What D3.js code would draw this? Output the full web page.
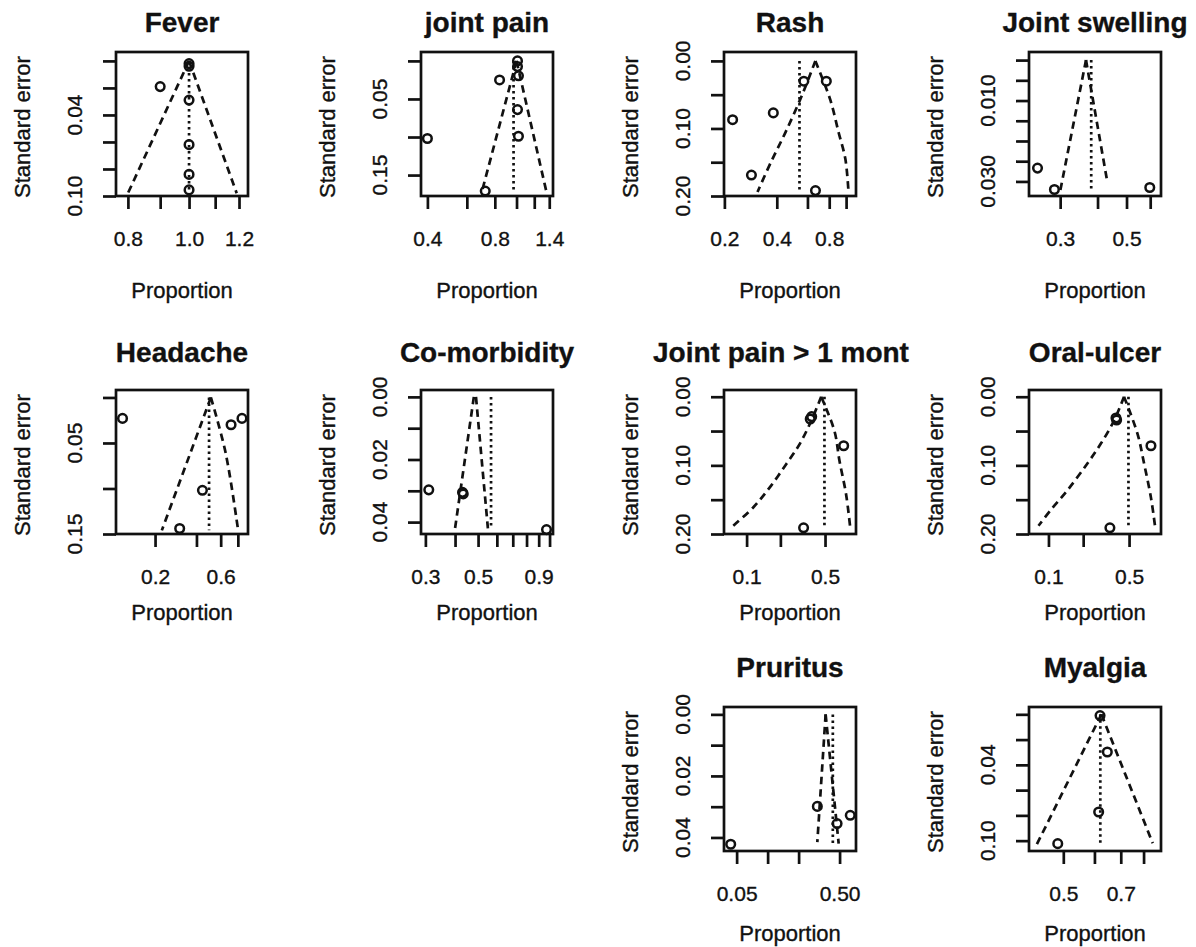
<!DOCTYPE html>
<html>
<head>
<meta charset="utf-8">
<script src="https://cdn.jsdelivr.net/npm/d3@7"></script>
<style>
  body { margin: 0; background: #fff; }
  text { font-family: "Liberation Sans", Arial, sans-serif; fill: #111; stroke: #111; stroke-width: 0.35; }
</style>
</head>
<body>
<svg id="chart"></svg>
<script>
// values; points are [proportion, standard error]

const feverStudies = [[0.9, 0.019], [1.0, 0.002], [1.0, 0.004], [1.0, 0.029], [1.0, 0.062], [1.0, 0.084], [1.0, 0.0955]];
const feverLeft = [[1.0, 0], [0.80, 0.098]];
const feverRight = [[1.0, 0], [1.19, 0.098]];
const feverPooled = 1.0;
const feverXLim = [0.766, 1.24];
const feverYLim = [-0.0066, 0.1];
const feverXTicks = [0.8, 0.9, 1.0, 1.1, 1.2];
const feverXLabels = ["0.8", "", "1.0", "", "1.2"];
const feverYTicks = [0, 0.02, 0.04, 0.06, 0.08, 0.10];
const feverYLabels = ["", "", "0.04", "", "", "0.10"];

const jointStudies = [[0.84, 0.025], [1.01, 0.0], [1.01, 0.0075], [1.02, 0.0196], [1.01, 0.064], [1.02, 0.099], [0.40, 0.102], [0.725, 0.171]];
const jointLeft = [[1.0, 0], [0.70, 0.172]];
const jointRight = [[1.0, 0], [1.36, 0.172]];
const jointPooled = 0.97;
const jointXLim = [0.3745, 1.455];
const jointYLim = [-0.0117, 0.1775];
const jointXTicks = [0.4, 0.6, 0.8, 1.0, 1.2, 1.4];
const jointXLabels = ["0.4", "", "0.8", "", "", "1.4"];
const jointYTicks = [0, 0.05, 0.10, 0.15];
const jointYLabels = ["", "0.05", "", "0.15"];

const rashStudies = [[0.223, 0.087], [0.382, 0.077], [0.286, 0.169], [0.572, 0.030], [0.77, 0.030], [0.667, 0.192]];
const rashLeft = [[0.666, 0], [0.56, 0.05], [0.45, 0.105], [0.37, 0.15], [0.31, 0.194]];
const rashRight = [[0.666, 0], [0.81, 0.057], [0.906, 0.106], [0.99, 0.145], [1.03, 0.19]];
const rashPooled = 0.54;
const rashXLim = [0.199, 1.14];
const rashYLim = [-0.0132, 0.2];
const rashXTicks = [0.2, 0.4, 0.6, 0.8, 1.0];
const rashXLabels = ["0.2", "0.4", "", "0.8", ""];
const rashYTicks = [0, 0.05, 0.10, 0.15, 0.20];
const rashYLabels = ["0.00", "", "0.10", "", "0.20"];

const swellStudies = [[0.252, 0.0267], [0.287, 0.032], [0.598, 0.0315]];
const swellLeft = [[0.366, 0], [0.30, 0.0324]];
const swellRight = [[0.366, 0], [0.431, 0.030]];
const swellPooled = 0.381;
const swellXLim = [0.236, 0.652];
const swellYLim = [-0.002, 0.0336];
const swellXTicks = [0.3, 0.4, 0.5, 0.6];
const swellXLabels = ["0.3", "", "0.5", ""];
const swellYTicks = [0, 0.005, 0.010, 0.015, 0.020, 0.025, 0.030];
const swellYLabels = ["", "", "0.010", "", "", "", "0.030"];

const headStudies = [[0.116, 0.023], [0.714, 0.030], [0.857, 0.023], [0.442, 0.102], [0.302, 0.144]];
const headLeft = [[0.509, 0], [0.224, 0.146]];
const headRight = [[0.509, 0], [0.65, 0.06], [0.80, 0.144]];
const headPooled = 0.494;
const headXLim = [0.104, 0.948];
const headYLim = [-0.0082, 0.15];
const headXTicks = [0.2, 0.4, 0.6, 0.8];
const headXLabels = ["0.2", "", "0.6", ""];
const headYTicks = [0, 0.05, 0.10, 0.15];
const headYLabels = ["", "0.05", "", "0.15"];

const comorbStudies = [[0.31, 0.0297], [0.43, 0.0305], [0.433, 0.031], [0.971, 0.0424]];
const comorbLeft = [[0.48, 0], [0.40, 0.042]];
const comorbRight = [[0.49, 0], [0.55, 0.042]];
const comorbPooled = 0.567;
const comorbXLim = [0.2875, 1.034];
const comorbYLim = [-0.0022, 0.0438];
const comorbXTicks = [0.3, 0.4, 0.5, 0.6, 0.7, 0.8, 0.9, 1.0];
const comorbXLabels = ["0.3", "", "0.5", "", "", "", "0.9", ""];
const comorbYTicks = [0, 0.01, 0.02, 0.03, 0.04];
const comorbYLabels = ["0.00", "", "0.02", "", "0.04"];

const longStudies = [[0.369, 0.0325], [0.38, 0.029], [0.733, 0.0714], [0.322, 0.191]];
const longLeft = [[0.462, 0], [0.377, 0.035], [0.297, 0.069], [0.226, 0.098], [0.161, 0.132], [0.115, 0.161], [0.076, 0.188]];
const longRight = [[0.462, 0], [0.606, 0.0496], [0.672, 0.093], [0.77, 0.142], [0.835, 0.188]];
const longPooled = 0.494;
const longXLim = [0.0629, 0.944];
const longYLim = [-0.0098, 0.2];
const longXTicks = [0.1, 0.2, 0.5];
const longXLabels = ["0.1", "", "0.5"];
const longYTicks = [0, 0.05, 0.10, 0.15, 0.20];
const longYLabels = ["0.00", "", "0.10", "", "0.20"];

const oralStudies = [[0.39, 0.034], [0.385, 0.031], [0.774, 0.0714], [0.341, 0.191]];
const oralLeft = [[0.452, 0], [0.37, 0.035], [0.283, 0.069], [0.216, 0.098], [0.145, 0.137], [0.1035, 0.166], [0.082, 0.188]];
const oralRight = [[0.452, 0], [0.592, 0.054], [0.676, 0.098], [0.774, 0.147], [0.839, 0.188]];
const oralPooled = 0.494;
const oralXLim = [0.0678, 0.946];
const oralYLim = [-0.0098, 0.2];
const oralXTicks = [0.1, 0.2, 0.5];
const oralXLabels = ["0.1", "", "0.5"];
const oralYTicks = [0, 0.05, 0.10, 0.15, 0.20];
const oralYLabels = ["0.00", "", "0.10", "", "0.20"];

const prurStudies = [[0.0438, 0.0422], [0.304, 0.0299], [0.473, 0.0355], [0.635, 0.0328]];
const prurLeft = [[0.366, 0], [0.304, 0.0415]];
const prurRight = [[0.366, 0], [0.49, 0.042]];
const prurPooled = 0.43;
const prurXLim = [0.0377, 0.722];
const prurYLim = [-0.0024, 0.0444];
const prurXTicks = [0.05, 0.1, 0.2, 0.5];
const prurXLabels = ["0.05", "", "", "0.50"];
const prurYTicks = [0, 0.01, 0.02, 0.03, 0.04];
const prurYLabels = ["0.00", "", "0.02", "", "0.04"];

const myalStudies = [[0.62, 0.001], [0.647, 0.0298], [0.615, 0.0773], [0.484, 0.1024]];
const myalLeft = [[0.625, 0], [0.427, 0.1037]];
const myalRight = [[0.625, 0], [0.844, 0.102]];
const myalPooled = 0.621;
const myalXLim = [0.409, 0.886];
const myalYLim = [-0.0058, 0.1082];
const myalXTicks = [0.5, 0.6, 0.7, 0.8];
const myalXLabels = ["0.5", "", "0.7", ""];
const myalYTicks = [0, 0.02, 0.04, 0.06, 0.08, 0.10];
const myalYLabels = ["", "", "0.04", "", "", "0.10"];

const panels = [
  { title: "Fever", row: 0, col: 0, studies: feverStudies, left: feverLeft, right: feverRight, pooled: feverPooled, xLim: feverXLim, yLim: feverYLim, xTicks: feverXTicks, xLabels: feverXLabels, yTicks: feverYTicks, yLabels: feverYLabels },
  { title: "joint pain", row: 0, col: 1, studies: jointStudies, left: jointLeft, right: jointRight, pooled: jointPooled, xLim: jointXLim, yLim: jointYLim, xTicks: jointXTicks, xLabels: jointXLabels, yTicks: jointYTicks, yLabels: jointYLabels },
  { title: "Rash", row: 0, col: 2, studies: rashStudies, left: rashLeft, right: rashRight, pooled: rashPooled, xLim: rashXLim, yLim: rashYLim, xTicks: rashXTicks, xLabels: rashXLabels, yTicks: rashYTicks, yLabels: rashYLabels },
  { title: "Joint swelling", row: 0, col: 3, studies: swellStudies, left: swellLeft, right: swellRight, pooled: swellPooled, xLim: swellXLim, yLim: swellYLim, xTicks: swellXTicks, xLabels: swellXLabels, yTicks: swellYTicks, yLabels: swellYLabels },
  { title: "Headache", row: 1, col: 0, studies: headStudies, left: headLeft, right: headRight, pooled: headPooled, xLim: headXLim, yLim: headYLim, xTicks: headXTicks, xLabels: headXLabels, yTicks: headYTicks, yLabels: headYLabels },
  { title: "Co-morbidity", row: 1, col: 1, studies: comorbStudies, left: comorbLeft, right: comorbRight, pooled: comorbPooled, xLim: comorbXLim, yLim: comorbYLim, xTicks: comorbXTicks, xLabels: comorbXLabels, yTicks: comorbYTicks, yLabels: comorbYLabels },
  { title: "Joint pain > 1 mont", shift: -9, row: 1, col: 2, studies: longStudies, left: longLeft, right: longRight, pooled: longPooled, xLim: longXLim, yLim: longYLim, xTicks: longXTicks, xLabels: longXLabels, yTicks: longYTicks, yLabels: longYLabels },
  { title: "Oral-ulcer", row: 1, col: 3, studies: oralStudies, left: oralLeft, right: oralRight, pooled: oralPooled, xLim: oralXLim, yLim: oralYLim, xTicks: oralXTicks, xLabels: oralXLabels, yTicks: oralYTicks, yLabels: oralYLabels },
  { title: "Pruritus", row: 2, col: 2, studies: prurStudies, left: prurLeft, right: prurRight, pooled: prurPooled, xLim: prurXLim, yLim: prurYLim, xTicks: prurXTicks, xLabels: prurXLabels, yTicks: prurYTicks, yLabels: prurYLabels },
  { title: "Myalgia", row: 2, col: 3, studies: myalStudies, left: myalLeft, right: myalRight, pooled: myalPooled, xLim: myalXLim, yLim: myalYLim, xTicks: myalXTicks, xLabels: myalXLabels, yTicks: myalYTicks, yLabels: myalYLabels }
];

// layout of the grid of plot boxes
const colLeft = [116, 421, 724, 1029];
const rowTop = [52, 390, 707];
const titleY = [32, 362, 677];
const xlabY = [298, 620, 941];
const boxW = 132, boxH = 144;
const lw = 2.7;

const svg = d3.select("#chart").attr("width", 1196).attr("height", 947);

panels.forEach((p) => {
  const L = colLeft[p.col], T = rowTop[p.row];
  const x = d3.scaleLog().domain(p.xLim).range([L, L + boxW]);
  const y = d3.scaleLinear().domain(p.yLim).range([T, T + boxH]);
  const g = svg.append("g");

  // funnel (pseudo confidence limits)
  const line = d3.line()
    .x((d) => x(d[0]))
    .y((d) => y(d[1]))
    .curve(d3.curveCatmullRom);
  [p.left, p.right].forEach((side) => {
    g.append("path")
      .attr("d", line(side))
      .attr("fill", "none")
      .attr("stroke", "#111")
      .attr("stroke-width", lw)
      .attr("stroke-dasharray", "7.5,5");
  });

  // pooled estimate
  const seMax = d3.max(p.left.concat(p.right), (d) => d[1]);
  g.append("line")
    .attr("x1", x(p.pooled)).attr("x2", x(p.pooled))
    .attr("y1", y(0)).attr("y2", y(seMax))
    .attr("stroke", "#111")
    .attr("stroke-width", lw)
    .attr("stroke-dasharray", "2.5,3.5");

  // studies
  g.selectAll("circle.study")
    .data(p.studies)
    .join("circle")
    .attr("class", "study")
    .attr("cx", (d) => x(d[0]))
    .attr("cy", (d) => y(d[1]))
    .attr("r", 4.3)
    .attr("fill", "none")
    .attr("stroke", "#111")
    .attr("stroke-width", 2.5);

  g.append("rect")
    .attr("x", L).attr("y", T)
    .attr("width", boxW).attr("height", boxH)
    .attr("fill", "none")
    .attr("stroke", "#111")
    .attr("stroke-width", lw);

  // x axis
  const xa = g.append("g")
    .attr("transform", `translate(0,${T + boxH})`)
    .call(d3.axisBottom(x)
      .tickValues(p.xTicks)
      .tickFormat((d, i) => p.xLabels[i])
      .tickSize(13)
      .tickPadding(22.5)
      .tickSizeOuter(0));
  xa.select(".domain").remove();
  xa.selectAll("line").attr("stroke", "#111").attr("stroke-width", lw);
  xa.selectAll("text")
    .attr("font-size", 21)
    .attr("font-family", "Liberation Sans, Arial, sans-serif")
    .attr("fill", "#111");

  // y axis, labels rotated as in base graphics
  const ya = g.append("g")
    .attr("transform", `translate(${L},0)`)
    .call(d3.axisLeft(y)
      .tickValues(p.yTicks)
      .tickFormat("")
      .tickSize(13)
      .tickSizeOuter(0));
  ya.select(".domain").remove();
  ya.selectAll("line").attr("stroke", "#111").attr("stroke-width", lw);

  g.selectAll("text.ylab")
    .data(p.yTicks.map((v, i) => ({ v: v, label: p.yLabels[i] })).filter((d) => d.label))
    .join("text")
    .attr("class", "ylab")
    .attr("transform", (d) => `translate(${L - 34},${y(d.v)}) rotate(-90)`)
    .attr("text-anchor", "middle")
    .attr("font-size", 21)
    .text((d) => d.label);

  g.append("text")
    .attr("transform", `translate(${L - 86},${T + boxH / 2 + 3}) rotate(-90)`)
    .attr("text-anchor", "middle")
    .attr("font-size", 22)
    .text("Standard error");

  g.append("text")
    .attr("x", L + boxW / 2)
    .attr("y", xlabY[p.row])
    .attr("text-anchor", "middle")
    .attr("font-size", 22)
    .text("Proportion");

  g.append("text")
    .attr("x", L + boxW / 2 + (p.shift || 0))
    .attr("y", titleY[p.row])
    .attr("text-anchor", "middle")
    .attr("font-size", 28)
    .attr("font-weight", "bold")
    .text(p.title);
});
</script>
</body>
</html>
